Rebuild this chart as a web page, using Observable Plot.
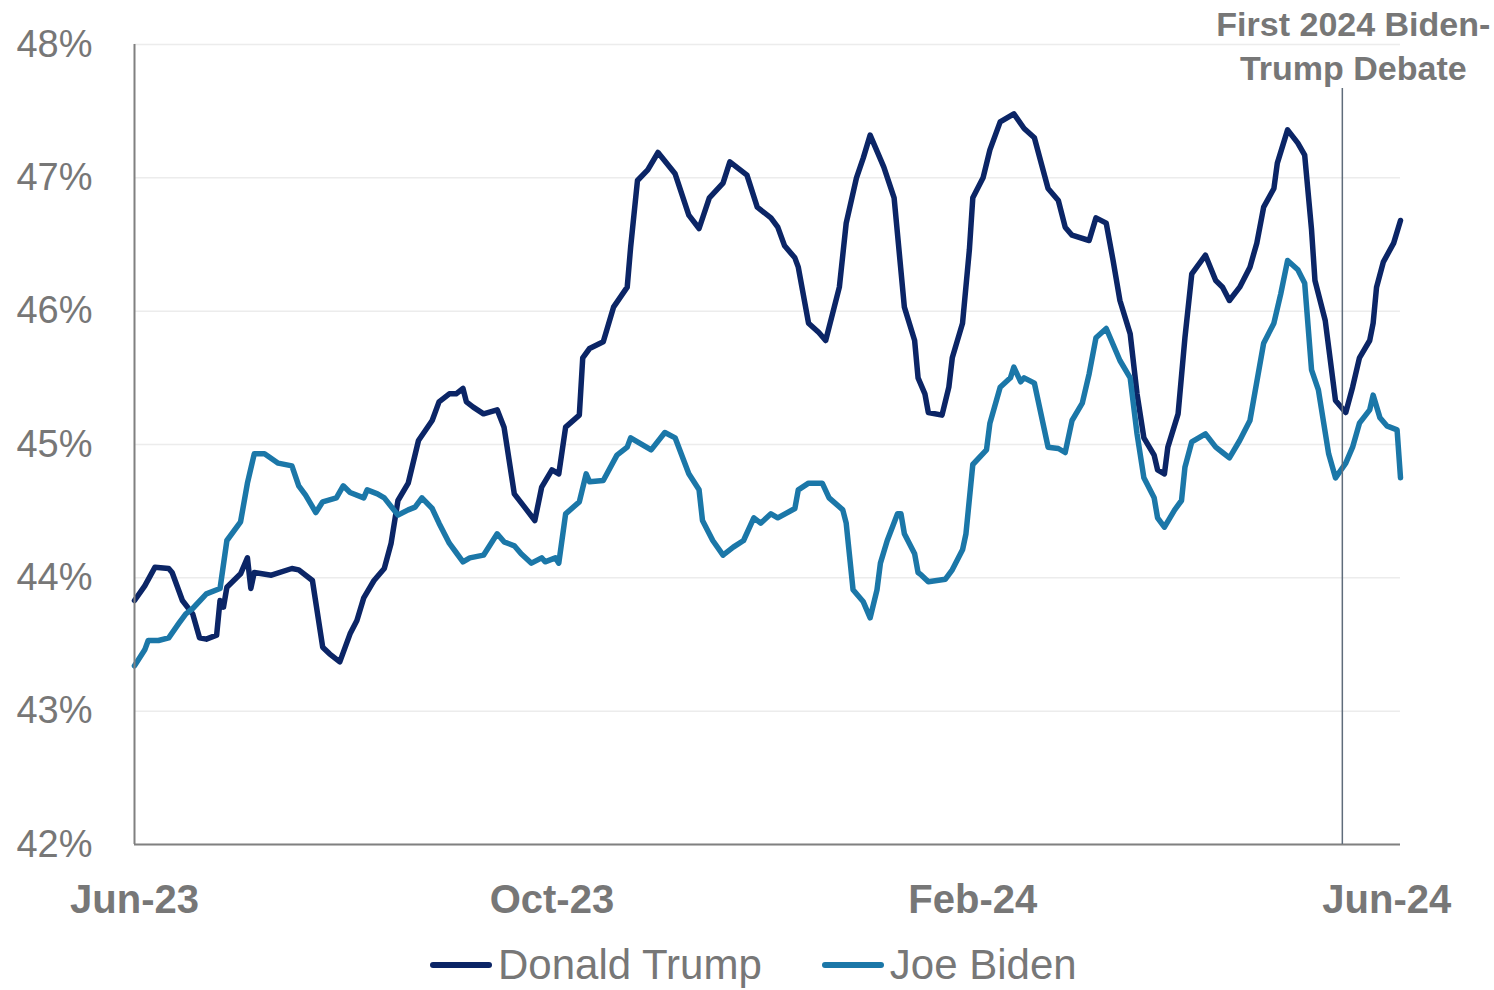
<!DOCTYPE html>
<html>
<head>
<meta charset="utf-8">
<script src="https://cdn.jsdelivr.net/npm/d3@7"></script>
<script src="https://cdn.jsdelivr.net/npm/@observablehq/plot@0.6"></script>
<style>
  html, body { margin: 0; padding: 0; background: #fff; }
  #wrap { position: relative; width: 1494px; height: 990px; overflow: hidden; font-family: "Liberation Sans", Arial, sans-serif; }
  #legend { position: absolute; left: 430px; top: 944px; display: flex; align-items: center; font-size: 42px; line-height: 1; color: #777; }
  .item { display: flex; align-items: center; margin-right: 60px; }
  .sw { width: 62px; height: 6px; border-radius: 3px; margin-right: 6px; }
</style>
</head>
<body>
<div id="wrap"><div id="chart"></div><div id="legend"></div></div>
<script>
// ---- data (day offsets from 1 Jun 2023, polling average %) ----
const startDate = "2023-06-01";
const endDay = 370;

const trumpDays = [0,3,6,10,11,14,17,19,21,24,25,26,27,29,31,33,34,35,40,46,48,52,55,57,60,63,65,67,70,73,75,77,80,83,87,89,92,94,96,97,99,102,106,108,111,114,117,119,122,124,126,130,131,133,137,140,144,145,147,150,153,158,162,165,168,172,174,179,182,186,188,190,193,194,197,200,202,204,206,208,211,213,215,219,222,225,228,229,231,232,236,238,239,242,244,245,248,250,253,257,260,263,265,267,270,272,274,279,281,284,286,288,291,293,295,298,299,301,302,305,307,309,313,316,318,320,323,326,328,330,333,334,337,340,342,344,345,348,350,351,354,356,358,361,362,363,365,368,370];
const trumpPct = [43.83,43.94,44.08,44.07,44.04,43.83,43.73,43.55,43.54,43.57,43.83,43.78,43.93,43.98,44.03,44.15,43.92,44.04,44.02,44.07,44.06,43.98,43.48,43.43,43.37,43.58,43.68,43.85,43.98,44.07,44.26,44.58,44.71,45.03,45.18,45.32,45.38,45.38,45.42,45.32,45.28,45.23,45.26,45.13,44.63,44.53,44.43,44.68,44.81,44.78,45.13,45.22,45.65,45.72,45.77,46.03,46.18,46.48,46.98,47.06,47.19,47.03,46.72,46.62,46.85,46.96,47.12,47.02,46.78,46.70,46.63,46.49,46.40,46.33,45.91,45.84,45.78,45.98,46.18,46.66,47.00,47.15,47.32,47.08,46.85,46.03,45.78,45.50,45.38,45.24,45.22,45.43,45.65,45.91,46.46,46.85,47.00,47.21,47.42,47.48,47.37,47.30,47.11,46.92,46.83,46.63,46.57,46.53,46.70,46.66,46.38,46.08,45.83,45.38,45.05,44.92,44.81,44.78,44.98,45.23,45.80,46.28,46.42,46.23,46.18,46.08,46.18,46.33,46.51,46.78,46.92,47.11,47.36,47.26,47.17,46.61,46.23,45.93,45.53,45.33,45.24,45.43,45.65,45.78,45.91,46.18,46.37,46.51,46.68];

const bidenDays = [0,3,4,7,10,13,15,17,21,25,27,31,33,35,38,42,46,48,50,53,55,59,61,63,67,68,71,73,77,80,82,84,87,89,92,94,96,98,102,106,108,111,113,116,119,120,123,124,126,130,132,133,137,141,144,145,147,151,155,158,162,165,166,169,172,175,178,181,183,186,188,193,194,197,201,203,207,208,210,213,215,217,218,220,223,224,225,228,229,230,232,237,239,242,243,245,249,250,253,256,257,259,260,263,267,270,272,274,277,279,281,284,288,291,293,295,298,299,301,304,306,307,309,313,316,318,320,323,326,330,333,335,337,340,342,344,346,349,351,354,356,358,361,362,364,366,369,370];
const bidenPct = [43.34,43.46,43.53,43.53,43.55,43.66,43.73,43.77,43.88,43.92,44.28,44.42,44.71,44.93,44.93,44.86,44.84,44.69,44.62,44.49,44.57,44.60,44.69,44.64,44.60,44.66,44.63,44.60,44.47,44.51,44.53,44.60,44.52,44.41,44.26,44.19,44.12,44.15,44.17,44.33,44.27,44.24,44.18,44.11,44.15,44.12,44.15,44.11,44.48,44.57,44.78,44.72,44.73,44.92,44.98,45.05,45.02,44.96,45.09,45.05,44.78,44.66,44.43,44.28,44.17,44.23,44.28,44.45,44.41,44.48,44.45,44.52,44.66,44.71,44.71,44.60,44.51,44.41,43.91,43.82,43.70,43.91,44.11,44.28,44.48,44.48,44.33,44.18,44.04,44.02,43.97,43.99,44.06,44.21,44.33,44.85,44.96,45.16,45.43,45.50,45.58,45.47,45.50,45.46,44.98,44.97,44.94,45.18,45.31,45.53,45.80,45.87,45.63,45.50,45.08,44.75,44.60,44.45,44.38,44.51,44.58,44.83,45.02,45.08,44.98,44.94,44.90,45.03,45.18,45.76,45.91,46.13,46.38,46.31,46.21,45.56,45.41,44.93,44.75,44.86,44.98,45.16,45.26,45.37,45.20,45.14,45.11,44.75];

const seriesNames = ["Donald Trump", "Joe Biden"];
const seriesColors = ["#0b2566", "#1b77a8"];

const yTicks = [42, 43, 44, 45, 46, 47, 48];
const xTickDates = ["2023-06-01", "2023-10-01", "2024-02-01", "2024-06-01"];
const xTickLabels = ["Jun-23", "Oct-23", "Feb-24", "Jun-24"];

const debateDay = 353;
const debateLabel = "First 2024 Biden-\nTrump Debate";

// ---- build ----
const start = new Date(startDate + "T00:00:00Z");
const toDate = d => new Date(start.getTime() + d * 864e5);
const rows = [];
trumpDays.forEach((d, i) => rows.push({date: toDate(d), pct: trumpPct[i], who: seriesNames[0]}));
bidenDays.forEach((d, i) => rows.push({date: toDate(d), pct: bidenPct[i], who: seriesNames[1]}));
const tickDates = xTickDates.map(s => new Date(s + "T00:00:00Z"));
const labelOf = new Map(tickDates.map((d, i) => [+d, xTickLabels[i]]));
const debateDate = toDate(debateDay);

const chart = Plot.plot({
  width: 1494,
  height: 935,
  marginTop: 44,
  marginBottom: 91,
  marginLeft: 134,
  marginRight: 94,
  style: {fontFamily: "'Liberation Sans', Arial, sans-serif", color: "#777", background: "#fff"},
  x: {type: "utc", domain: [start, toDate(endDay)]},
  y: {domain: [42, 48]},
  color: {domain: seriesNames, range: seriesColors},
  marks: [
    Plot.gridY(yTicks, {stroke: "#ececec", strokeOpacity: 1, strokeWidth: 1.5}),
    Plot.line(rows, {x: "date", y: "pct", z: "who", stroke: "who", strokeWidth: 5.5, strokeLinejoin: "round", strokeLinecap: "round"}),
    Plot.ruleX([start], {stroke: "#808080", strokeWidth: 2}),
    Plot.ruleY([42], {stroke: "#808080", strokeWidth: 2}),
    Plot.ruleX([debateDate], {stroke: "#5f6c7b", strokeWidth: 1.5, insetTop: 44}),
    Plot.axisY(yTicks, {tickSize: 0, tickPadding: 42, fontSize: 38, tickFormat: d => d + "%", label: null}),
    Plot.axisX(tickDates, {tickSize: 0, tickPadding: 40, fontSize: 40, fontWeight: "bold", tickFormat: d => labelOf.get(+d), label: null}),
    Plot.text([debateLabel], {x: debateDate, y: 48, dx: 11, dy: -40, lineAnchor: "top", lineHeight: 1.3, fontSize: 34, fontWeight: "bold", fill: "#777", textAnchor: "middle"})
  ]
});
document.getElementById("chart").appendChild(chart);

const legend = document.getElementById("legend");
seriesNames.forEach((name, i) => {
  const item = document.createElement("div");
  item.className = "item";
  const sw = document.createElement("span");
  sw.className = "sw";
  sw.style.background = seriesColors[i];
  const tx = document.createElement("span");
  tx.textContent = name;
  item.appendChild(sw); item.appendChild(tx);
  legend.appendChild(item);
});
</script>
</body>
</html>
